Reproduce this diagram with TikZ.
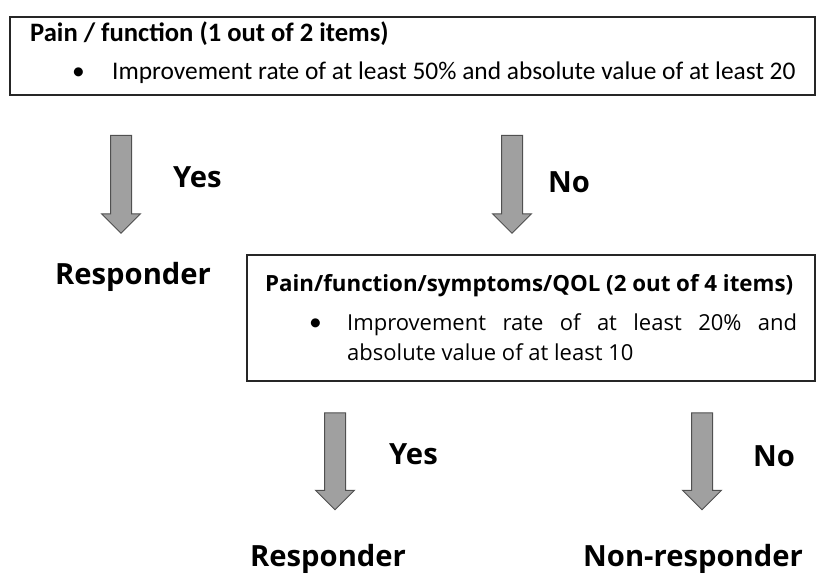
\documentclass[tikz,border=0pt]{standalone}
\usepackage{fontspec}
\setmainfont{Open Sans}
\newfontfamily\calfont{Carlito}
\usepackage{xcolor}
\usetikzlibrary{shapes.arrows,positioning}

\definecolor{arrowfill}{RGB}{160,160,160}
\definecolor{arrowline}{RGB}{80,80,80}

\tikzset{
    critbox/.style={draw=black!85, line width=1.3pt},
    downarrow/.style={shape=single arrow, rotate=-90, draw=arrowline, fill=arrowfill,
        line width=1pt, inner xsep=0pt, inner ysep=10pt, minimum height=98pt,
        single arrow head extend=9pt},
    answer/.style={anchor=base west, inner sep=0pt, font=\fontsize{29.2}{34}\selectfont\bfseries},
    txt/.style={anchor=base west, inner sep=0pt}
}

\begin{document}
\begin{tikzpicture}[x=1pt, y=-1pt]
    \useasboundingbox (0,0) rectangle (816,579);

    % First criterion
    \draw [critbox] (10,17) rectangle (815,95);
    \node [txt, font=\calfont\fontsize{26.6}{30}\selectfont\bfseries] (title1) at (30,41) {Pain / function (1 out of 2 items)};
    \node [txt, font=\calfont\fontsize{25.5}{30}\selectfont] (bullet1) at (72,79) {\textbullet};
    \node [txt, font=\calfont\fontsize{25.4}{30}\selectfont] (crit1) at (112,79) {Improvement rate of at least 50\% and absolute value of at least 20};

    % Arrows from first box
    \node [downarrow] (arr1) at (121,179) {};
    \node [downarrow] (arr2) at (512,179) {};
    \node [answer] (yes1) at (173,187) {Yes};
    \node [answer] (no1) at (548,192) {No};
    \node [answer] (resp1) at (55,284) {Responder};

    % Second criterion
    \draw [critbox] (247,255) rectangle (815,381);
    \node [txt, font=\fontsize{22.3}{26}\selectfont\bfseries] (title2) at (265,291) {Pain/function/symptoms/QOL (2 out of 4 items)};
    \node [txt, font=\calfont\fontsize{25.5}{30}\selectfont] (bullet2) at (309,330) {\textbullet};
    \node [txt, font=\fontsize{22}{26}\selectfont] (crit2a) at (347,330) {\makebox[450pt][s]{Improvement rate of at least 20\% and}};
    \node [txt, font=\fontsize{22}{26}\selectfont] (crit2b) at (347,360) {absolute value of at least 10};

    % Arrows from second box
    \node [downarrow, minimum height=97pt] (arr3) at (335,456) {};
    \node [downarrow, minimum height=97pt] (arr4) at (702,456) {};
    \node [answer] (yes2) at (389,464) {Yes};
    \node [answer] (no2) at (753,466) {No};
    \node [answer] (resp2) at (250,566) {Responder};
    \node [answer] (nonresp) at (583,566) {Non-responder};
\end{tikzpicture}
\end{document}
